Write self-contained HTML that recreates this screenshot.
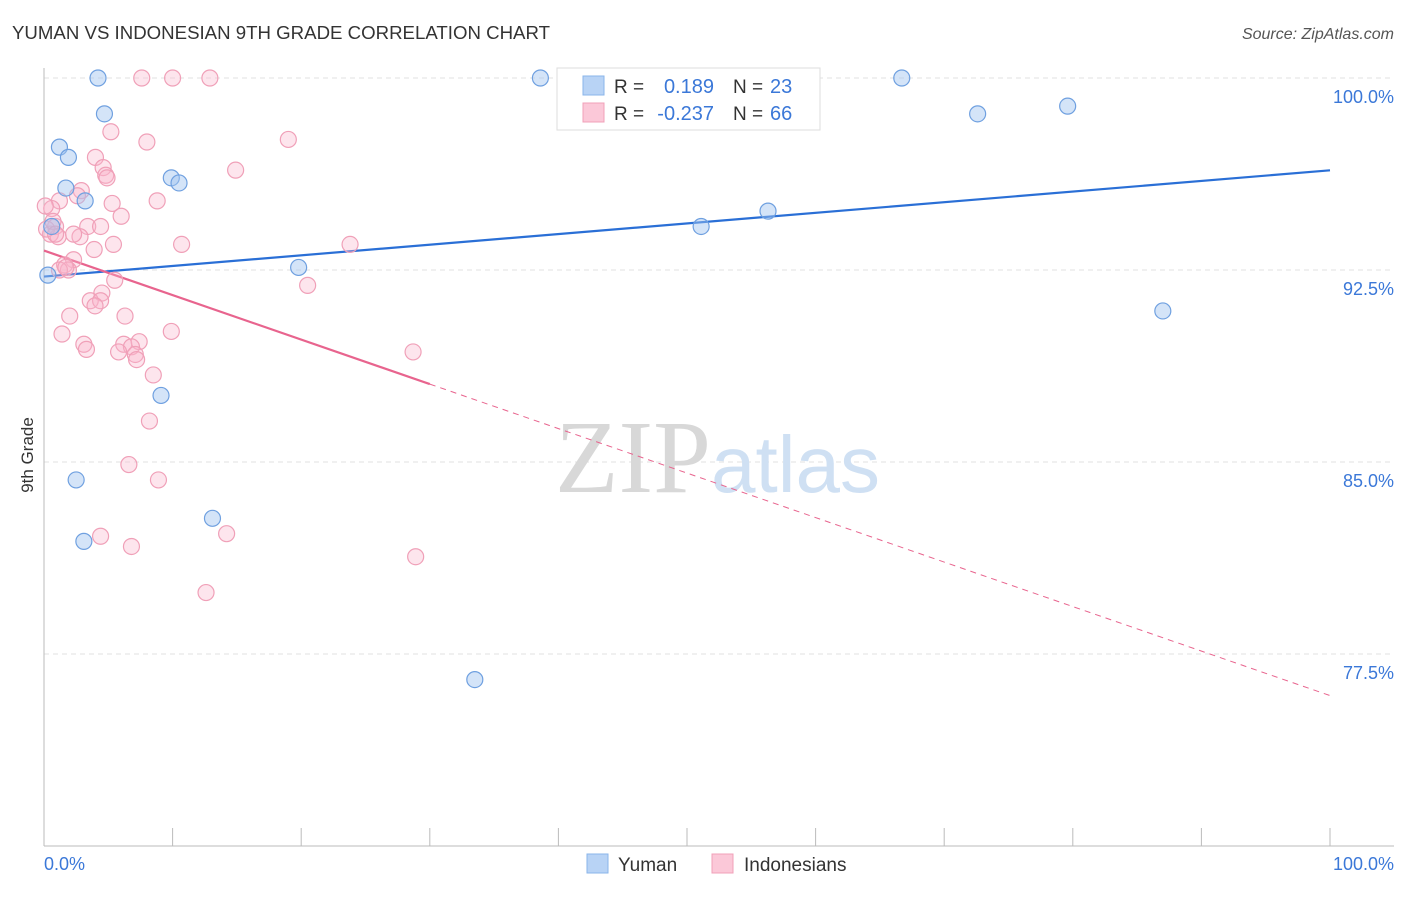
<!DOCTYPE html>
<html><head><meta charset="utf-8"><style>
body{margin:0;background:#fff;font-family:"Liberation Sans",sans-serif;}
svg text{font-family:"Liberation Sans",sans-serif;}
</style></head><body>
<svg id="chart" width="1406" height="892">
<text x="12" y="39" font-size="18" fill="#333" textLength="538" lengthAdjust="spacingAndGlyphs">YUMAN VS INDONESIAN 9TH GRADE CORRELATION CHART</text>
<text x="1394" y="39" font-size="16" fill="#555" font-style="italic" text-anchor="end">Source: ZipAtlas.com</text>
<g id="grid"></g>
<g id="axes"></g>
<text x="555" y="492" font-size="104" fill="#ddd" font-family="Liberation Serif"><tspan font-family="Liberation Serif" fill="#d8d8d8">ZIP</tspan><tspan fill="#cfe0f3" font-size="80" font-family="Liberation Sans">atlas</tspan></text>
<g id="lines"></g>
<g id="pts"></g>
<text x="33" y="455" font-size="17" fill="#333" text-anchor="middle" transform="rotate(-90 33 455)">9th Grade</text>
<text x="44" y="870" font-size="18" fill="#3b78d8">0.0%</text>
<text x="1394" y="870" font-size="18" fill="#3b78d8" text-anchor="end">100.0%</text>
<g>
<rect x="557" y="68" width="263" height="62" fill="#fff" stroke="#ddd"/>
<rect x="583" y="76" width="21" height="19" fill="#b8d3f5" stroke="#8ab4ea"/>
<rect x="583" y="103" width="21" height="19" fill="#fbc8d8" stroke="#f0a0b8"/>
<text x="614" y="93" font-size="19" fill="#333">R =</text>
<text x="714" y="93" font-size="20" fill="#3b78d8" text-anchor="end">0.189</text>
<text x="733" y="93" font-size="19" fill="#333">N =</text>
<text x="770" y="93" font-size="20" fill="#3b78d8">23</text>
<text x="614" y="120" font-size="19" fill="#333">R =</text>
<text x="714" y="120" font-size="20" fill="#3b78d8" text-anchor="end">-0.237</text>
<text x="733" y="120" font-size="19" fill="#333">N =</text>
<text x="770" y="120" font-size="20" fill="#3b78d8">66</text>
</g>
<g>
<rect x="587" y="854" width="21" height="19" fill="#b8d3f5" stroke="#8ab4ea"/>
<text x="618" y="871" font-size="19" fill="#333">Yuman</text>
<rect x="712" y="854" width="21" height="19" fill="#fbc8d8" stroke="#f0a0b8"/>
<text x="744" y="871" font-size="19" fill="#333">Indonesians</text>
</g>
</svg>
<script>
const yTicks=[100,92.5,85,77.5];
const yTickLabels=["100.0%","92.5%","85.0%","77.5%"];
const yumanX=[4.2,4.7,1.2,1.9,1.7,3.2,0.6,0.3,9.9,10.5,19.8,9.1,2.5,3.1,13.1,33.5,38.6,51.1,56.3,66.7,72.6,79.6,87.0];
const yumanY=[100,98.6,97.3,96.9,95.7,95.2,94.2,92.3,96.1,95.9,92.6,87.6,84.3,81.9,82.8,76.5,100,94.2,94.8,100,98.6,98.9,90.9];
const indoX=[7.6,10.0,12.9,5.2,8.0,19.0,4.0,4.6,4.8,4.9,14.9,2.9,2.6,1.2,0.6,8.8,5.3,6.0,3.4,0.9,0.5,1.1,2.8,5.4,10.7,23.8,3.9,2.3,1.6,1.9,1.2,5.5,20.5,4.5,3.6,4.4,3.967,6.3,2.0,1.4,9.9,3.1,3.3,6.2,7.4,6.8,5.8,7.1,7.2,28.7,8.5,8.2,6.6,8.9,4.4,6.8,14.2,28.9,12.6,0.1,0.2,0.7,4.4,2.3,0.9,1.7];
const indoY=[100,100,100,97.9,97.5,97.6,96.9,96.5,96.2,96.1,96.4,95.6,95.4,95.2,94.9,95.2,95.1,94.6,94.2,94.2,93.9,93.8,93.8,93.5,93.5,93.5,93.3,92.9,92.7,92.5,92.5,92.1,91.9,91.6,91.3,91.3,91.1,90.7,90.7,90.0,90.1,89.6,89.4,89.6,89.7,89.5,89.3,89.2,89.0,89.3,88.4,86.6,84.9,84.3,82.1,81.7,82.2,81.3,79.9,95.0,94.1,94.4,94.2,93.9,93.9,92.6];
const NS="http://www.w3.org/2000/svg";
const X0=44,X1=1330,Yt=78,pxPer=192/7.5;
const sx=v=>X0+(X1-X0)*v/100, sy=v=>Yt+(100-v)*pxPer;
function mk(t,a,p){const e=document.createElementNS(NS,t);for(const k in a)e.setAttribute(k,a[k]);p.appendChild(e);return e;}
const grid=document.getElementById('grid'),axes=document.getElementById('axes');
yTicks.forEach((v,i)=>{
 const l=mk('line',{x1:X0,x2:1394,y1:sy(v),y2:sy(v),stroke:'#e2e2e2','stroke-dasharray':'5,4'},grid);
 
 
 const t=mk('text',{x:1394,y:sy(v)+25,'font-size':18,fill:'#3b78d8','text-anchor':'end'},grid);
 t.textContent=yTickLabels[i];
 
 
});
mk('line',{x1:X0,x2:X0,y1:68,y2:846,stroke:'#bbb'},axes);
mk('line',{x1:X0,x2:1394,y1:846,y2:846,stroke:'#bbb'},axes);
for(let i=0;i<=10;i++){const x=sx(i*10);mk('line',{x1:x,x2:x,y1:828,y2:846,stroke:'#bbb'},axes);}
function reg(xs,ys){const n=xs.length;let mx=0,my=0;for(let i=0;i<n;i++){mx+=xs[i];my+=ys[i];}mx/=n;my/=n;let a=0,b=0;for(let i=0;i<n;i++){a+=(xs[i]-mx)*(ys[i]-my);b+=(xs[i]-mx)**2;}const s=a/b;return [my-s*mx,s];}
const lines=document.getElementById('lines');
const [ba,bb]=reg(yumanX,yumanY);
let e=mk('line',{x1:sx(0),y1:sy(ba),x2:sx(100),y2:sy(ba+bb*100),stroke:'#2a6fd6','stroke-width':2.2},lines);


const [pa,pb]=reg(indoX,indoY);
e=mk('line',{x1:sx(0),y1:sy(pa),x2:sx(30),y2:sy(pa+pb*30),stroke:'#e8648e','stroke-width':2.2},lines);


e=mk('line',{x1:sx(30),y1:sy(pa+pb*30),x2:sx(100),y2:sy(pa+pb*100),stroke:'#e8648e','stroke-width':1,'stroke-dasharray':'6,5'},lines);


const pts=document.getElementById('pts');
indoX.forEach((x,i)=>{const c=mk('circle',{cx:sx(x),cy:sy(indoY[i]),r:8,fill:'rgba(248,180,202,0.35)',stroke:'#f0a0b8','stroke-width':1.2},pts);
 
 });
yumanX.forEach((x,i)=>{const c=mk('circle',{cx:sx(x),cy:sy(yumanY[i]),r:8,fill:'rgba(160,195,240,0.45)',stroke:'#6fa0e0','stroke-width':1.2},pts);
 
 });
</script>
</body></html>
